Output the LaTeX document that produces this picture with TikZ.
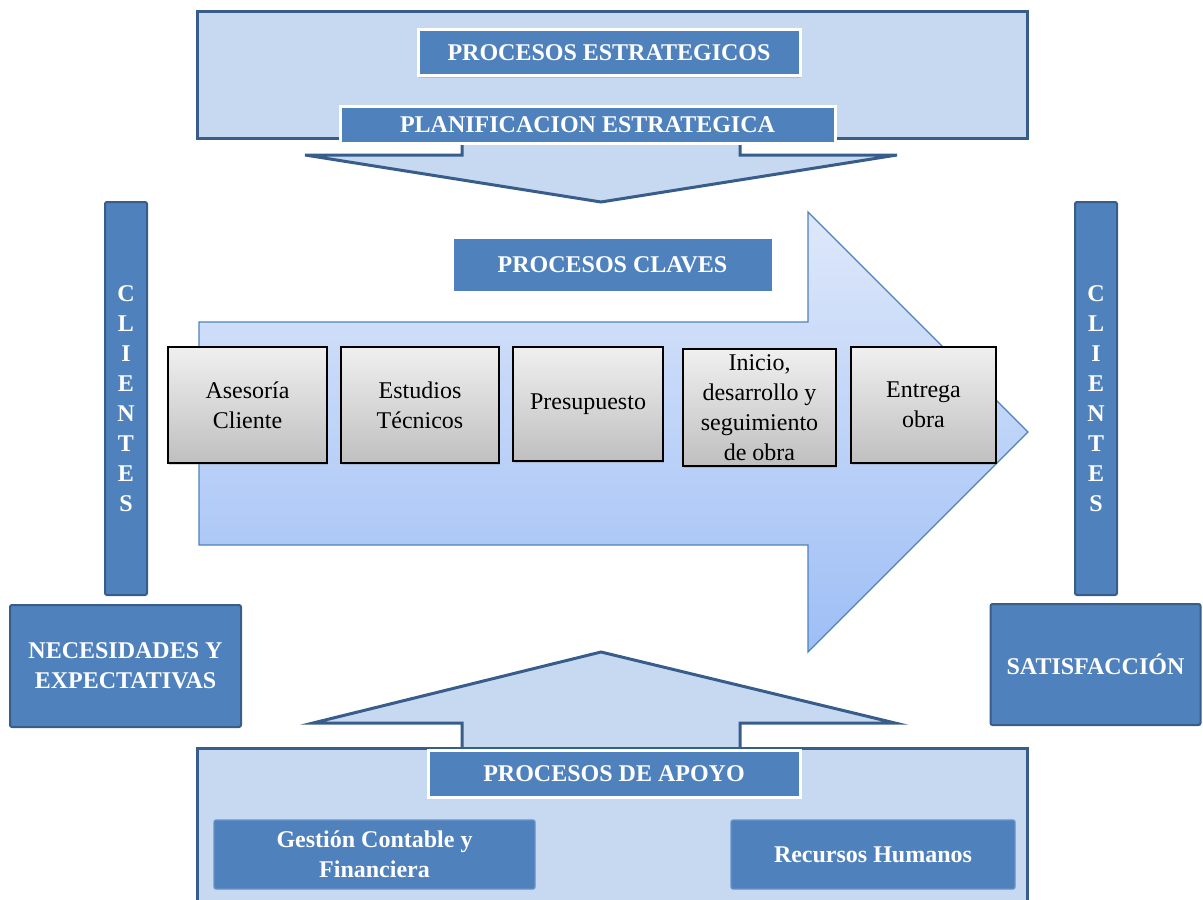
\documentclass[tikz,border=0pt]{standalone}
\usepackage{fontspec}
\setmainfont{Liberation Serif}
\usetikzlibrary{shadows}

\definecolor{boxblue}{RGB}{79,129,189}
\definecolor{edgeblue}{RGB}{56,93,138}
\definecolor{paleblue}{RGB}{198,217,241}
\definecolor{arrowtop}{RGB}{222,232,250}
\definecolor{arrowbot}{RGB}{158,190,245}

\begin{document}
\begin{tikzpicture}[x = 0.5pt, y = -0.5pt,
                    framebox/.style = {draw = edgeblue, fill = paleblue, line width = 1.5pt},
                    headbox/.style = {draw = white, fill = boxblue, line width = 1.5pt, text = white,
                                      font = \fontsize{12}{15}\selectfont\bfseries, inner sep = 0pt,
                                      drop shadow = {shadow xshift = 0.5pt, shadow yshift = -1.2pt, opacity = 0.3}},
                    bluebox/.style = {draw = edgeblue, fill = boxblue, line width = 1pt, rounded corners = 1pt,
                                      text = white, font = \fontsize{12}{15}\selectfont\bfseries,
                                      align = center, inner sep = 0pt},
                    flatbox/.style = {draw = boxblue!85!white, fill = boxblue, line width = 0.6pt, rounded corners = 1pt,
                                      text = white, font = \fontsize{12}{15}\selectfont\bfseries,
                                      align = center, inner sep = 0pt},
                    procbox/.style = {draw = black, line width = 0.8pt, top color = gray!12, bottom color = gray!50,
                                      font = \fontsize{12}{15}\selectfont, align = center, inner sep = 0pt,
                                      drop shadow = {shadow xshift = 0.5pt, shadow yshift = -0.8pt, opacity = 0.3}}]

\useasboundingbox (0,0) rectangle (1203,899);
\clip (0,0) rectangle (1203,899);

% strategic processes
\draw [framebox] (197,12) rectangle (1027,138);
\draw [framebox] (462,130) -- (462,155) -- (305,155) -- (601,202) -- (897,155)
                 -- (740,155) -- (740,130) -- cycle;
\node [headbox, minimum width = 191pt, minimum height = 23pt] (estrat) at (609,53) {PROCESOS ESTRATEGICOS};
\node [headbox, minimum width = 247.5pt, minimum height = 18pt] (planif) at (587.5,125) {PLANIFICACION ESTRATEGICA};

% clients
\node [bluebox, minimum width = 21pt, minimum height = 196.5pt] (cliL) at (126,398.5) {C\\L\\I\\E\\N\\T\\E\\S};
\node [bluebox, minimum width = 21pt, minimum height = 196.5pt] (cliR) at (1096,398.5) {C\\L\\I\\E\\N\\T\\E\\S};
\node [bluebox, minimum width = 115.5pt, minimum height = 61pt] (neces) at (125.5,666) {NECESIDADES Y\\EXPECTATIVAS};
\node [bluebox, minimum width = 105pt, minimum height = 60.5pt] (satis) at (1095.5,664.5) {SATISFACCIÓN};

% key processes
\path [draw = boxblue, line width = 0.6pt, top color = arrowtop, bottom color = arrowbot]
      (199,322) -- (808,322) -- (808,212) -- (1028,432) -- (808,652) -- (808,545) -- (199,545) -- cycle;
\node [headbox, minimum width = 160.5pt, minimum height = 27.5pt] (claves) at (612.5,264.5) {PROCESOS CLAVES};

\node [procbox, minimum width = 79.5pt, minimum height = 58pt] (P1) at (247.5,405) {Asesoría\\Cliente};
\node [procbox, minimum width = 79pt, minimum height = 58pt] (P2) at (420,405) {Estudios\\Técnicos};
\node [procbox, minimum width = 75pt, minimum height = 57pt] (P3) at (588,404) {Presupuesto};
\node [procbox, minimum width = 76.5pt, minimum height = 58.5pt] (P4) at (759.5,407.5) {Inicio,\\desarrollo y\\seguimiento\\de obra};
\node [procbox, minimum width = 72.5pt, minimum height = 58pt] (P5) at (923.5,405) {Entrega\\obra};

% support processes
\draw [framebox] (462,760) -- (462,723) -- (313,723) -- (601,652) -- (895,723)
                 -- (740,723) -- (740,760) -- cycle;
\draw [framebox] (197,748) rectangle (1027,930);
\node [headbox, minimum width = 186pt, minimum height = 23.5pt] (apoyo) at (614,773.5) {PROCESOS DE APOYO};
\node [flatbox, minimum width = 160.5pt, minimum height = 34.5pt] (conta) at (374.5,854.5) {Gestión Contable y\\Financiera};
\node [flatbox, minimum width = 142pt, minimum height = 34.5pt] (rrhh) at (873,854.5) {Recursos Humanos};
\end{tikzpicture}
\end{document}
